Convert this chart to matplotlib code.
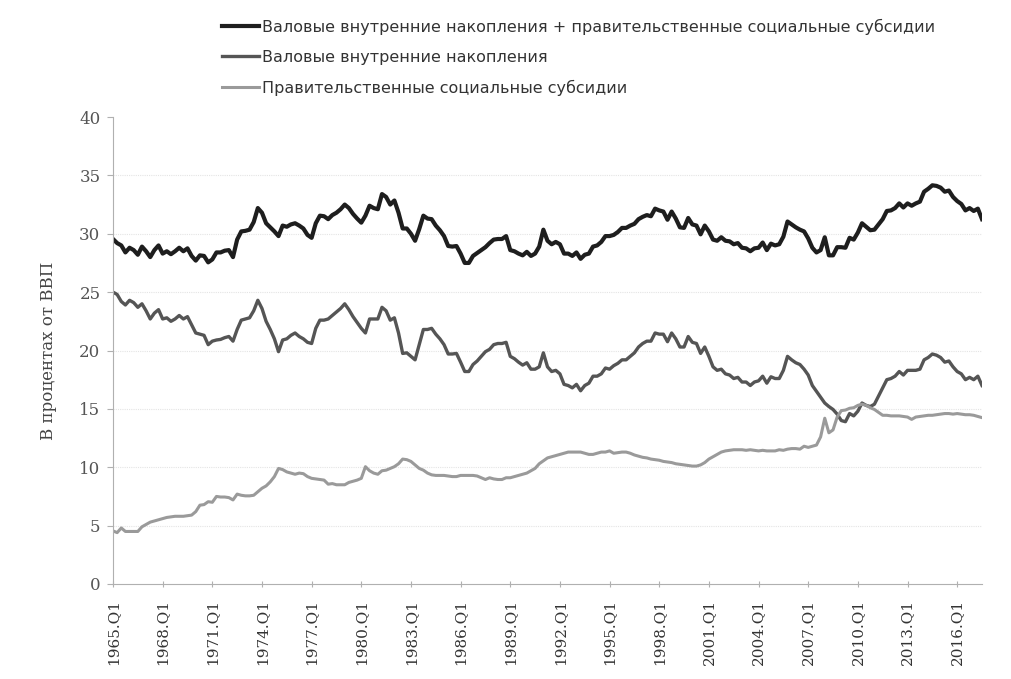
import matplotlib
matplotlib.use("Agg")
import matplotlib.pyplot as plt
import numpy as np

start_year = 1965
# Gross domestic investment, % of GDP, quarterly from 1965.Q1
gross_investment = [
    25.0, 24.8, 24.2, 23.9,   # 1965
    24.3, 24.1, 23.7, 24.0,   # 1966
    23.4, 22.7, 23.2, 23.5,   # 1967
    22.7, 22.8, 22.5, 22.7,   # 1968
    23.0, 22.7, 22.9, 22.2,   # 1969
    21.5, 21.4, 21.3, 20.5,   # 1970
    20.8, 20.9, 20.95, 21.1,  # 1971
    21.2, 20.8, 21.8, 22.6,   # 1972
    22.7, 22.8, 23.4, 24.3,   # 1973
    23.6, 22.5, 21.8, 21.0,   # 1974
    19.9, 20.9, 21.0, 21.3,   # 1975
    21.5, 21.2, 21.0, 20.7,   # 1976
    20.6, 21.9, 22.6, 22.6,   # 1977
    22.7, 23.0, 23.3, 23.6,   # 1978
    24.0, 23.5, 22.9, 22.4,   # 1979
    21.9, 21.5, 22.7, 22.7,   # 1980
    22.7, 23.7, 23.4, 22.6,   # 1981
    22.8, 21.5, 19.75, 19.8,  # 1982
    19.5, 19.2, 20.5, 21.8,   # 1983
    21.8, 21.9, 21.4, 21.0,   # 1984
    20.5, 19.7, 19.7, 19.75,  # 1985
    19.0, 18.2, 18.2, 18.8,   # 1986
    19.1, 19.5, 19.9, 20.1,   # 1987
    20.5, 20.6, 20.6, 20.7,   # 1988
    19.5, 19.3, 19.0, 18.75,  # 1989
    18.95, 18.4, 18.4, 18.6,  # 1990
    19.8, 18.6, 18.2, 18.3,   # 1991
    18.0, 17.1, 17.0, 16.8,   # 1992
    17.1, 16.55, 17.0, 17.2,  # 1993
    17.8, 17.8, 18.0, 18.5,   # 1994
    18.4, 18.7, 18.9, 19.2,   # 1995
    19.2, 19.5, 19.8, 20.3,   # 1996
    20.6, 20.8, 20.8, 21.5,   # 1997
    21.4, 21.4, 20.75, 21.5,  # 1998
    21.0, 20.3, 20.3, 21.2,   # 1999
    20.7, 20.6, 19.75, 20.3,  # 2000
    19.5, 18.6, 18.3, 18.4,   # 2001
    18.0, 17.9, 17.6, 17.7,   # 2002
    17.3, 17.3, 17.0, 17.3,   # 2003
    17.4, 17.8, 17.2, 17.75,  # 2004
    17.6, 17.6, 18.3, 19.5,   # 2005
    19.2, 18.95, 18.8, 18.4,  # 2006
    17.9, 17.0, 16.5, 16.0,   # 2007
    15.5, 15.2, 14.95, 14.55, # 2008
    14.0, 13.9, 14.6, 14.4,   # 2009
    14.8, 15.5, 15.3, 15.2,   # 2010
    15.4, 16.1, 16.8, 17.5,   # 2011
    17.6, 17.8, 18.2, 17.9,   # 2012
    18.3, 18.3, 18.3, 18.4,   # 2013
    19.2, 19.4, 19.7, 19.6,   # 2014
    19.4, 19.0, 19.1, 18.6,   # 2015
    18.2, 18.0, 17.5, 17.7,   # 2016
    17.5, 17.8, 17.0,         # 2017
]

# Government social benefits, % of GDP
social_benefits = [
    4.55, 4.4, 4.8, 4.5,      # 1965
    4.5, 4.5, 4.5, 4.9,       # 1966
    5.1, 5.3, 5.4, 5.5,       # 1967
    5.6, 5.7, 5.75, 5.8,      # 1968
    5.8, 5.8, 5.85, 5.9,      # 1969
    6.2, 6.75, 6.8, 7.05,     # 1970
    7.0, 7.5, 7.45, 7.45,     # 1971
    7.4, 7.2, 7.7, 7.6,       # 1972
    7.55, 7.55, 7.6, 7.9,     # 1973
    8.2, 8.4, 8.75, 9.2,      # 1974
    9.9, 9.8, 9.6, 9.5,       # 1975
    9.4, 9.5, 9.45, 9.2,      # 1976
    9.05, 9.0, 8.95, 8.9,     # 1977
    8.55, 8.6, 8.5, 8.5,      # 1978
    8.5, 8.7, 8.8, 8.9,       # 1979
    9.05, 10.05, 9.7, 9.5,    # 1980
    9.4, 9.7, 9.75, 9.9,      # 1981
    10.05, 10.3, 10.7, 10.65, # 1982
    10.5, 10.2, 9.9, 9.75,    # 1983
    9.5, 9.35, 9.3, 9.3,      # 1984
    9.3, 9.25, 9.2, 9.2,      # 1985
    9.3, 9.3, 9.3, 9.3,       # 1986
    9.25, 9.1, 8.95, 9.1,     # 1987
    9.0, 8.95, 8.95, 9.1,     # 1988
    9.1, 9.2, 9.3, 9.4,       # 1989
    9.5, 9.7, 9.9, 10.3,      # 1990
    10.55, 10.8, 10.9, 11.0,  # 1991
    11.1, 11.2, 11.3, 11.3,   # 1992
    11.3, 11.3, 11.2, 11.1,   # 1993
    11.1, 11.2, 11.3, 11.3,   # 1994
    11.4, 11.2, 11.25, 11.3,  # 1995
    11.3, 11.2, 11.05, 10.95, # 1996
    10.85, 10.8, 10.7, 10.65, # 1997
    10.6, 10.5, 10.45, 10.4,  # 1998
    10.3, 10.25, 10.2, 10.15, # 1999
    10.1, 10.1, 10.2, 10.4,   # 2000
    10.7, 10.9, 11.1, 11.3,   # 2001
    11.4, 11.45, 11.5, 11.5,  # 2002
    11.5, 11.45, 11.5, 11.45, # 2003
    11.4, 11.45, 11.4, 11.4,  # 2004
    11.4, 11.5, 11.45, 11.55, # 2005
    11.6, 11.6, 11.55, 11.8,  # 2006
    11.7, 11.8, 11.9, 12.6,   # 2007
    14.2, 12.95, 13.2, 14.3,  # 2008
    14.85, 14.9, 15.05, 15.1, # 2009
    15.3, 15.4, 15.3, 15.1,   # 2010
    14.95, 14.7, 14.45, 14.45,# 2011
    14.4, 14.4, 14.4, 14.35,  # 2012
    14.3, 14.1, 14.3, 14.35,  # 2013
    14.4, 14.45, 14.45, 14.5, # 2014
    14.55, 14.6, 14.6, 14.55, # 2015
    14.6, 14.55, 14.5, 14.5,  # 2016
    14.45, 14.35, 14.25,      # 2017
]

labels = [
    "Валовые внутренние накопления + правительственные социальные субсидии",
    "Валовые внутренние накопления",
    "Правительственные социальные субсидии",
]
y_label = "В процентах от ВВП"
tick_years = list(range(1965, 2017, 3))
tick_labels = [f"{y}.Q1" for y in tick_years]

gross = np.array(gross_investment)
benefits = np.array(social_benefits)
total = gross + benefits  # the combined series is the sum of the two
x = np.arange(len(gross))

fig = plt.figure(figsize=(10.12, 6.79), dpi=100)
ax = fig.add_axes([113 / 1012, 95 / 679, 869 / 1012, 467 / 679])

l1, = ax.plot(x, total, color="#1e1e1e", lw=3.0, solid_joinstyle="round")
l2, = ax.plot(x, gross, color="#555555", lw=2.4, solid_joinstyle="round")
l3, = ax.plot(x, benefits, color="#9a9a9a", lw=2.2, solid_joinstyle="round")

ax.set_xlim(0, 210)
ax.set_ylim(0, 40)
ax.set_yticks(range(0, 41, 5))
ax.set_xticks([(y - start_year) * 4 for y in tick_years])
ax.set_xticklabels(tick_labels, rotation=90, family="DejaVu Serif",
                   fontsize=11, color="#333333")
for lab in ax.get_yticklabels():
    lab.set_family("DejaVu Serif")
    lab.set_fontsize(12)
    lab.set_color("#555555")

for v in range(5, 40, 5):
    ax.axhline(v, color="#e4e4e4", lw=0.8, ls=(0, (1, 1)), zorder=0)

for s in ["top", "right"]:
    ax.spines[s].set_visible(False)
ax.spines["left"].set_color("#b0b0b0")
ax.spines["bottom"].set_color("#b0b0b0")
ax.tick_params(axis="y", length=4, color="#b0b0b0", pad=5)
ax.tick_params(axis="x", length=4, color="#b0b0b0", direction="inout", pad=9)

ax.set_ylabel(y_label, family="DejaVu Serif", fontsize=12, color="#444444",
              labelpad=16)

fig.legend([l1, l2, l3], labels, loc="upper left",
           bbox_to_anchor=(208 / 1012, 1 - 4 / 679), frameon=False,
           prop={"family": "DejaVu Sans", "size": 11.5},
           handlelength=2.3, handletextpad=0.2, labelspacing=0.95,
           labelcolor="#333333")

fig.savefig("out.png", dpi=100, facecolor="white")
